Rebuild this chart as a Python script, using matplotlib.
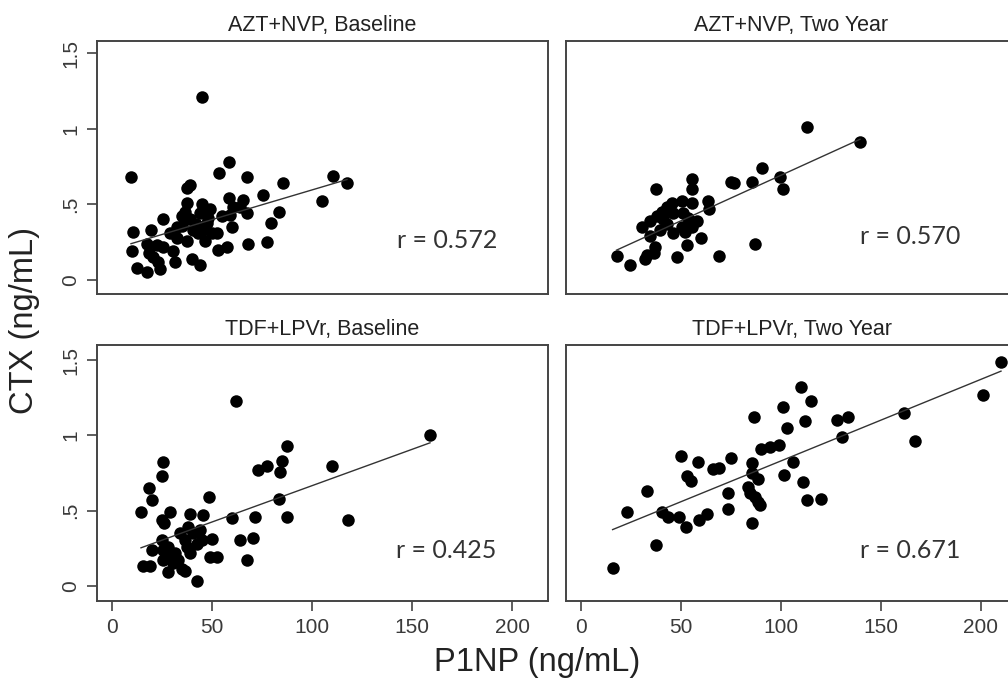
import numpy as np
import matplotlib.pyplot as plt

plt.rcParams['font.family'] = ['Liberation Sans', 'DejaVu Sans']

titles = ['AZT+NVP, Baseline', 'AZT+NVP, Two Year',
          'TDF+LPVr, Baseline', 'TDF+LPVr, Two Year']
r_labels = ['r = 0.572', 'r = 0.570', 'r = 0.425', 'r = 0.671']

# AZT+NVP baseline
p1np_azt_base = [9.5, 45, 58.5, 53.5, 67.5, 85.5, 110.5, 117.5, 105, 75.7, 83.7, 79.3,
                 77.3, 68.2, 67.3, 65.7, 64, 58.3, 60, 57.3, 53, 54.8, 59, 37.3, 39,
                 37.3, 45, 49, 44, 40, 31.5, 30.7, 25.5, 19.5, 10.5, 10, 12.3, 17.3,
                 24, 23, 18.3, 17.3, 22.3, 25.5, 20.7, 29, 32.3, 35, 36.5, 35, 39,
                 40.5, 43, 45.7, 47.3, 50, 44, 46.5, 37.3, 32.3, 52.3, 60.7, 42, 48]
ctx_azt_base = [0.68, 1.21, 0.78, 0.71, 0.68, 0.64, 0.69, 0.64, 0.52, 0.56, 0.45, 0.38,
                0.25, 0.24, 0.44, 0.53, 0.48, 0.54, 0.35, 0.22, 0.20, 0.42, 0.43, 0.61,
                0.63, 0.51, 0.50, 0.47, 0.10, 0.14, 0.12, 0.19, 0.40, 0.33, 0.32, 0.19,
                0.08, 0.05, 0.07, 0.12, 0.18, 0.24, 0.23, 0.22, 0.15, 0.31, 0.28, 0.42,
                0.45, 0.36, 0.40, 0.33, 0.31, 0.33, 0.38, 0.31, 0.44, 0.26, 0.26, 0.35,
                0.31, 0.48, 0.37, 0.41]

# AZT+NVP two year
p1np_azt_2yr = [112.8, 139.5, 90.7, 99.5, 101, 85.7, 74.8, 76.5, 55.3, 55.3, 37.3, 63.7,
                64.2, 87, 69, 60, 52.8, 47.8, 17.8, 24.5, 32, 32.8, 37, 36.7, 34.5,
                30.3, 34.5, 39.5, 41, 42.8, 45.3, 50.3, 55.3, 46.2, 51.2, 53.7, 57.8,
                55.3, 50.3, 46.2, 52, 42.8, 37.8, 40.3]
ctx_azt_2yr = [1.01, 0.91, 0.74, 0.68, 0.60, 0.65, 0.65, 0.64, 0.67, 0.60, 0.60, 0.52,
               0.47, 0.24, 0.16, 0.28, 0.23, 0.15, 0.16, 0.10, 0.14, 0.165, 0.22, 0.18,
               0.29, 0.35, 0.39, 0.33, 0.40, 0.48, 0.51, 0.52, 0.51, 0.44, 0.44, 0.41,
               0.39, 0.35, 0.35, 0.31, 0.32, 0.37, 0.42, 0.45]

# TDF+LPVr baseline
p1np_tdf_base = [62, 159, 87.3, 84.8, 84, 77.3, 73.2, 109.8, 83.7, 87.7, 118.2, 71.5,
                 59.8, 70.7, 64, 67.7, 48.7, 45.7, 39, 25.7, 24.8, 18.5, 20.2, 14.5, 29,
                 24.8, 26, 42.7, 49.8, 49, 52.3, 39, 34.8, 28.2, 30.7, 25.7, 19, 15.7,
                 19.8, 24.8, 25.7, 29, 33.2, 34, 36.5, 38.2, 40.7, 44, 44.8, 42.3, 37.3,
                 31.5, 28.2, 36.5]
ctx_tdf_base = [1.23, 1.00, 0.93, 0.83, 0.76, 0.80, 0.77, 0.80, 0.58, 0.46, 0.44, 0.46,
                0.45, 0.32, 0.305, 0.17, 0.59, 0.47, 0.48, 0.82, 0.73, 0.65, 0.57, 0.49,
                0.49, 0.44, 0.42, 0.03, 0.31, 0.19, 0.19, 0.22, 0.11, 0.095, 0.15, 0.17,
                0.13, 0.13, 0.24, 0.305, 0.24, 0.19, 0.17, 0.35, 0.305, 0.39, 0.35, 0.37,
                0.305, 0.28, 0.26, 0.22, 0.26, 0.10]

# TDF+LPVr two year
p1np_tdf_2yr = [15.8, 37.3, 22.8, 32.8, 40.3, 43.7, 49, 52.5, 59.2, 63.2, 50, 52.8,
                54.8, 58.7, 66.2, 69, 75, 73.7, 73.3, 85.7, 85.7, 86.5, 85.7, 88.7,
                83.7, 84.5, 87, 88.7, 89.5, 90, 94.5, 99.2, 101.2, 102.8, 105.8, 101.5,
                110, 114.8, 112, 111.2, 112.8, 120, 127.8, 133.7, 130.7, 161.5, 167,
                200.8, 210]
ctx_tdf_2yr = [0.12, 0.27, 0.49, 0.63, 0.49, 0.46, 0.46, 0.39, 0.44, 0.48, 0.86, 0.73,
               0.70, 0.82, 0.78, 0.785, 0.85, 0.615, 0.51, 0.42, 0.815, 1.12, 0.75, 0.71,
               0.66, 0.615, 0.59, 0.56, 0.54, 0.91, 0.925, 0.935, 1.19, 1.05, 0.82, 0.74,
               1.32, 1.23, 1.095, 0.69, 0.57, 0.575, 1.10, 1.12, 0.99, 1.15, 0.96, 1.27,
               1.49]

xs = [p1np_azt_base, p1np_azt_2yr, p1np_tdf_base, p1np_tdf_2yr]
ys = [ctx_azt_base, ctx_azt_2yr, ctx_tdf_base, ctx_tdf_2yr]

fig = plt.figure(figsize=(10.08, 6.85), dpi=100)
W, H = 1008., 685.
# panel boxes in pixels: left, top, right, bottom (right column runs off the page)
boxes = [(97, 41, 548, 294), (566, 41, 1017, 294),
         (97, 345, 548, 601), (566, 345, 1017, 601)]
ylims = [(-0.0925, 1.58), (-0.0925, 1.58), (-0.0995, 1.60), (-0.0995, 1.60)]
r_pos = [(0.665, 0.213), (0.652, 0.229), (0.662, 0.196), (0.652, 0.199)]

for i in range(4):
    l, t, r, b = boxes[i]
    ax = fig.add_axes([l / W, 1 - b / H, (r - l) / W, (b - t) / H])
    x = np.array(xs[i])
    y = np.array(ys[i])
    ax.plot(x, y, 'o', color='black', markersize=9, markeredgewidth=0)
    k, c = np.polyfit(x, y, 1)  # linear fit line
    xl = np.array([x.min(), x.max()])
    ax.plot(xl, k * xl + c, '-', color='#333333', lw=1.0)
    ax.set_xlim(-7.5, 218)
    ax.set_ylim(*ylims[i])
    ax.set_title(titles[i], fontsize=15.5, color='#222222', pad=7)
    ax.text(r_pos[i][0], r_pos[i][1], r_labels[i], transform=ax.transAxes,
            fontsize=18, family=['Lato', 'DejaVu Sans'], color='#333333', va='center')
    for s in ax.spines.values():
        s.set_linewidth(1.4)
        s.set_color('#444444')
    ax.set_xticks([0, 50, 100, 150, 200])
    ax.set_yticks([0, 0.5, 1, 1.5])
    ax.set_yticklabels(['0', '.5', '1', '1.5'], rotation=90, va='center')
    ax.tick_params(direction='out', length=7, width=1.1, color='#333333',
                   labelsize=15, labelcolor='#3a3a3a', pad=5)
    if i < 2:
        ax.tick_params(axis='x', bottom=False, labelbottom=False)
    if i % 2 == 1:
        ax.tick_params(axis='y', left=False, labelleft=False)

fig.text(25 / W, 1 - 320 / H, 'CTX (ng/mL)', rotation=90, fontsize=23.5,
         ha='center', va='center', color='#222222')
fig.text(537 / W, 1 - 662 / H, 'P1NP (ng/mL)', fontsize=23.5,
         ha='center', va='center', color='#222222')

fig.savefig('out.png', dpi=100)
